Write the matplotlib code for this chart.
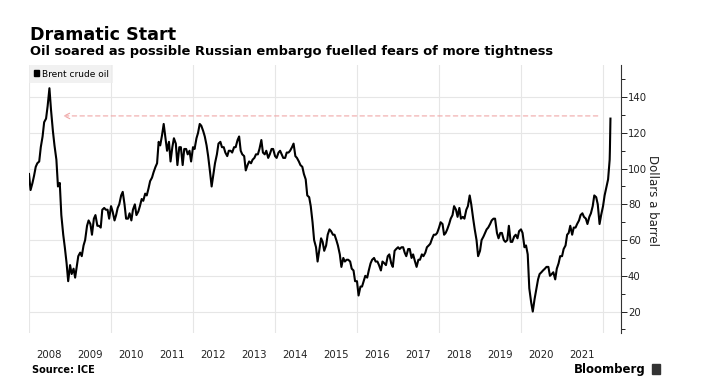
import matplotlib
matplotlib.use("Agg")
import matplotlib.pyplot as plt
import matplotlib.dates as mdates
import matplotlib.patches as mpatches
from matplotlib.ticker import MultipleLocator
import pandas as pd

# Brent crude oil, dollars a barrel (1st and 15th of each month)
brent_2008 = [97, 88, 92, 96, 101, 103, 104, 112, 118, 126, 128, 135, 145, 133, 121, 113, 105, 90, 92, 74, 63, 56, 47, 37]
brent_2009 = [46, 41, 44, 39, 45, 51, 53, 51, 57, 60, 68, 71, 69, 63, 72, 74, 68, 68, 67, 77, 78, 77, 77, 72]
brent_2010 = [79, 76, 71, 74, 78, 80, 85, 87, 80, 72, 72, 75, 71, 77, 80, 74, 76, 79, 83, 82, 86, 85, 89, 93]
brent_2011 = [95, 98, 101, 103, 115, 113, 119, 125, 117, 110, 115, 104, 112, 117, 114, 102, 112, 112, 102, 111, 111, 108, 110, 104]
brent_2012 = [112, 111, 117, 120, 125, 124, 121, 118, 113, 107, 98, 90, 97, 103, 108, 114, 115, 112, 112, 109, 107, 110, 110, 109]
brent_2013 = [112, 112, 116, 118, 110, 108, 107, 99, 102, 104, 103, 105, 106, 108, 108, 111, 116, 109, 108, 110, 106, 108, 111, 111]
brent_2014 = [107, 106, 109, 110, 108, 106, 106, 109, 109, 110, 112, 114, 107, 106, 104, 102, 101, 97, 94, 85, 84, 79, 70, 60]
brent_2015 = [56, 48, 55, 61, 59, 54, 57, 63, 66, 65, 63, 63, 60, 57, 52, 45, 50, 48, 49, 49, 48, 44, 43, 37]
brent_2016 = [37, 29, 34, 34, 37, 40, 39, 43, 47, 49, 50, 48, 48, 46, 43, 48, 47, 46, 51, 52, 47, 45, 54, 55]
brent_2017 = [56, 55, 56, 56, 53, 51, 55, 55, 50, 52, 48, 45, 49, 49, 52, 51, 53, 56, 57, 58, 61, 63, 63, 64]
brent_2018 = [67, 70, 69, 63, 64, 66, 69, 72, 74, 79, 77, 73, 78, 72, 73, 72, 77, 79, 85, 80, 72, 66, 60, 51]
brent_2019 = [54, 60, 62, 64, 66, 67, 69, 71, 72, 72, 64, 61, 64, 64, 60, 59, 60, 68, 59, 59, 62, 63, 61, 65]
brent_2020 = [66, 64, 56, 57, 52, 33, 25, 20, 27, 32, 38, 41, 42, 43, 44, 45, 45, 40, 41, 42, 38, 44, 47, 51]
brent_2021 = [51, 55, 57, 63, 64, 68, 63, 67, 67, 69, 71, 74, 75, 73, 72, 69, 73, 75, 79, 85, 84, 80, 69, 74]
brent_2022 = [79, 85, 90, 94]

# the March 2022 spike, day by day
spike_dates = ["2022-03-01", "2022-03-03", "2022-03-07", "2022-03-08"]
spike_values = [105, 110, 123, 128]

# dashed arrow back to the 2008 level
arrow_level = 129.5
arrow_start = "2021-11-15"
arrow_end = "2008-10-30"

values = (brent_2008 + brent_2009 + brent_2010 + brent_2011 + brent_2012 + brent_2013
          + brent_2014 + brent_2015 + brent_2016 + brent_2017 + brent_2018 + brent_2019
          + brent_2020 + brent_2021 + brent_2022)
dates = pd.date_range("2008-01-01", periods=len(values), freq="SMS")
dates = dates.append(pd.to_datetime(spike_dates))
values = values + spike_values

fig = plt.figure(figsize=(7.02, 3.85), dpi=100)
ax = fig.add_axes([29 / 702, 1 - 333 / 385, 592 / 702, 268 / 385])

ax.plot(dates, values, color="black", lw=1.5, zorder=3)

ax.annotate("", xy=(pd.Timestamp(arrow_end), arrow_level),
            xytext=(pd.Timestamp(arrow_start), arrow_level),
            arrowprops=dict(arrowstyle="->", color="#f0a8a8", lw=0.8,
                            linestyle=(0, (4, 3)), shrinkA=0, shrinkB=0))

ax.set_xlim(pd.Timestamp("2008-01-01"), pd.Timestamp("2022-06-10"))
ax.set_ylim(8, 158)

# y axis on the right
ax.yaxis.tick_right()
ax.set_yticks(range(20, 141, 20))
ax.yaxis.set_minor_locator(MultipleLocator(10))
ax.tick_params(axis="y", which="major", length=4, width=0.7, labelsize=7.3, pad=1, colors="#222222")
ax.tick_params(axis="y", which="minor", length=3, width=0.7, colors="#222222")
ax.set_ylabel("Dollars a barrel", rotation=270, fontsize=8.5, color="#222222")
ax.yaxis.set_label_position("right")
ax.yaxis.set_label_coords(1.064, 0.496)

# x axis: gridlines every other year, labels in mid-year
ax.xaxis.set_major_locator(mdates.YearLocator(2))
ax.xaxis.set_major_formatter(plt.NullFormatter())
ax.xaxis.set_minor_locator(mdates.YearLocator(1, month=7, day=1))
ax.xaxis.set_minor_formatter(mdates.DateFormatter("%Y"))
ax.tick_params(axis="x", which="both", length=0)
ax.tick_params(axis="x", which="minor", labelsize=7.3, pad=12, colors="#222222")

ax.grid(axis="y", which="major", color="#e6e6e6", lw=0.8)
ax.grid(axis="x", which="major", color="#e6e6e6", lw=0.8)
ax.set_axisbelow(True)

for side in ["left", "top", "bottom"]:
    ax.spines[side].set_visible(False)
ax.spines["right"].set_color("#333333")
ax.spines["right"].set_linewidth(0.8)

leg = ax.legend(handles=[mpatches.Patch(color="black", label="Brent crude oil")],
                loc="upper left", bbox_to_anchor=(0, 1), borderaxespad=0,
                fontsize=6.5, handlelength=0.6, handleheight=0.6, handletextpad=0.3,
                borderpad=0.5, fancybox=False, frameon=True)
leg.get_frame().set_facecolor("#eeeeee")
leg.get_frame().set_edgecolor("none")

fig.text(30 / 702, 1 - 35 / 385, "Dramatic Start", fontsize=12.6, fontweight="bold", va="center")
fig.text(30 / 702, 1 - 51 / 385, "Oil soared as possible Russian embargo fuelled fears of more tightness",
         fontsize=9.4, fontweight="bold", va="center")
fig.text(32 / 702, 1 - 370 / 385, "Source: ICE", fontsize=7, fontweight="bold", va="center")
fig.text(646 / 702, 1 - 369 / 385, "Bloomberg", fontsize=8.5, fontweight="bold", va="center", ha="right")
fig.add_artist(mpatches.Rectangle((652 / 702, 1 - 374 / 385), 8 / 702, 10 / 385,
                                  transform=fig.transFigure, color="#333333"))

fig.savefig("out.png", dpi=100)
